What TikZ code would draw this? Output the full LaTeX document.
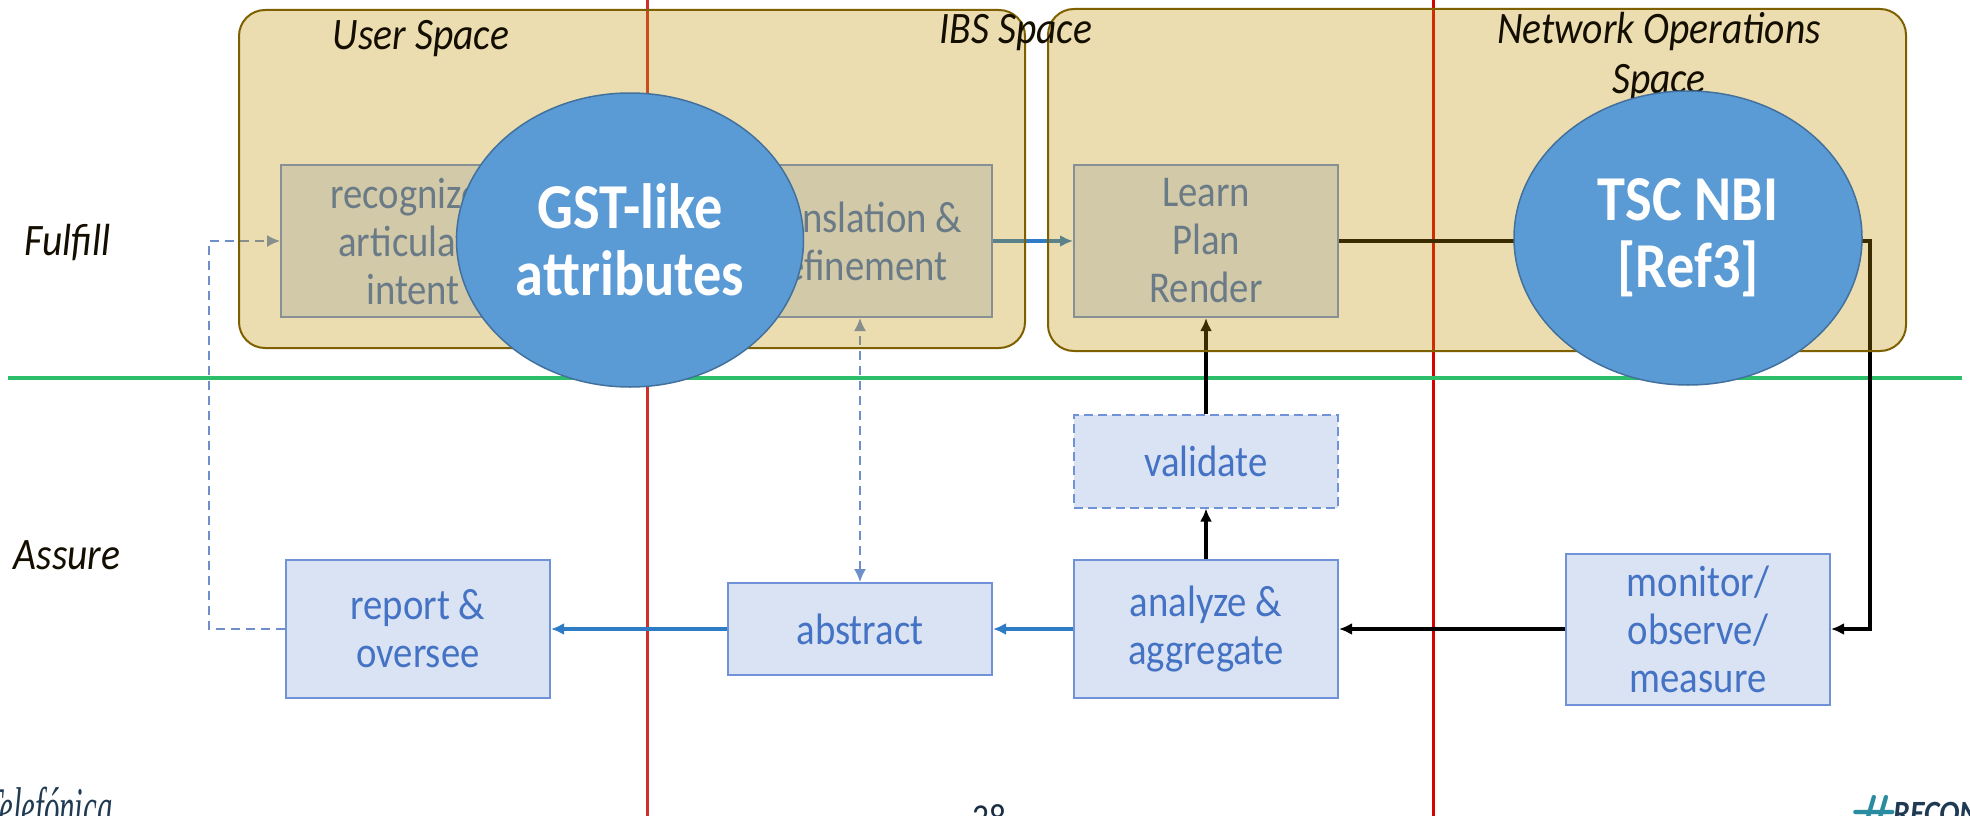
\documentclass[tikz,border=0pt]{standalone}
\usepackage{fontspec}
\setmainfont[FakeStretch=.88]{Carlito}
\newfontfamily\logofont[FakeStretch=.55]{Liberation Serif}
\usetikzlibrary{shapes.geometric,arrows.meta}
\definecolor{goldfill}{HTML}{BF9000}
\definecolor{goldline}{HTML}{7F6000}
\definecolor{boxfill}{HTML}{DAE3F3}
\definecolor{boxline}{HTML}{6F92D8}
\definecolor{boxtext}{HTML}{4472C4}
\definecolor{flowblue}{HTML}{2E7CC6}
\definecolor{dashblue}{HTML}{6F8FCB}
\definecolor{blobfill}{HTML}{5B9BD5}
\definecolor{blobline}{HTML}{41719C}
\definecolor{redrule}{HTML}{D0302A}
\definecolor{greenrule}{HTML}{2DBE6C}
\definecolor{navy}{HTML}{1F3A52}
\definecolor{teal}{HTML}{2A8CA0}
\tikzset{
  stagebox/.style={draw=boxline,fill=boxfill,text=boxtext,line width=2pt,minimum width=264pt,align=center,font=\fontsize{44}{48}\selectfont},
  spacebox/.style={draw=goldline,line width=2pt,fill=goldfill,fill opacity=.31,rounded corners=26pt,inner sep=0pt},
  blob/.style={ellipse,draw=blobline,fill=blobfill,text=white,line width=1.5pt,inner sep=0pt,align=center,font=\fontsize{64}{67}\selectfont\bfseries},
  caption/.style={font=\fontsize{45}{50}\selectfont\itshape,align=center,text=black!85!goldline},
  flow/.style={line width=3.5pt,draw=flowblue},
  hard/.style={line width=3.5pt,draw=black},
  dashflow/.style={line width=1.6pt,draw=dashblue,dash pattern=on 9pt off 6pt},
}
\begin{document}
\begin{tikzpicture}[x=1pt,y=-1pt,->,>={Latex[length=13pt,width=12pt]}]
\useasboundingbox (0,0) rectangle (1970,816);
% red and green rules
\coordinate (r1a) at (647,0); \coordinate (r1b) at (647,816);
\coordinate (r2a) at (1433,0); \coordinate (r2b) at (1433,816);
\coordinate (ga) at (8,378); \coordinate (gb) at (1962,378);
\draw[-,line width=3pt,draw=redrule] (r1a) -- (r1b);
\draw[-,line width=3pt,draw=red!85!black] (r2a) -- (r2b);
\draw[-,line width=4pt,draw=greenrule] (ga) -- (gb);
% stages
\node[stagebox,minimum height=152pt](recognize) at (413,241) {recognize/\\articulate\\intent};
\node[stagebox,minimum height=152pt](translate) at (860,241) {translation \&\\refinement};
\node[stagebox,minimum height=152pt](learn) at (1206,241) {Learn\\Plan\\Render};
\node[stagebox,minimum height=93pt,dash pattern=on 9pt off 5pt](validate) at (1206,461) {validate};
\node[stagebox,minimum height=138pt](analyze) at (1206,629) {analyze \&\\aggregate};
\node[stagebox,minimum height=92pt](abstract) at (860,629) {abstract};
\node[stagebox,minimum height=138pt](report) at (418,629) {report \&\\oversee};
\node[stagebox,minimum height=151pt](monitor) at (1698,629) {monitor/\\observe/\\measure};
\coordinate (c1) at (209,629); \coordinate (c2) at (209,241);
\coordinate (c3) at (1870,241); \coordinate (c4) at (1870,629);
% flows
\draw[dashflow] (report) -- (c1) -- (c2) -- (recognize);
\path (abstract) edge [dashflow,<->] (translate);
\path (translate) edge [flow] (learn);
\path (analyze) edge [flow] (abstract);
\path (abstract) edge [flow] (report);
\draw[hard] (learn) -- (c3) -- (c4) -- (monitor);
\path (monitor) edge [hard] (analyze);
\path (analyze) edge [hard] (validate);
\path (validate) edge [hard] (learn);
% spaces
\node[spacebox,minimum width=786pt,minimum height=338pt](user) at (632,179) {};
\node[spacebox,minimum width=858pt,minimum height=342pt](network) at (1477,180) {};
\node[caption](userlabel) at (421,39) {User Space};
\node[caption](ibslabel) at (1016,33) {IBS Space};
\node[caption](netlabel) at (1659,57) {Network Operations\\Space};
\node[caption](fulfill) at (68,243) {Fulfill};
\node[caption](assure) at (67,555) {Assure};
% footer
\node[anchor=base east,font=\logofont\itshape\fontsize{56}{60}\selectfont,text=navy](brand) at (116,826) {Telefónica};
\node[anchor=base west,font=\sffamily\bfseries\fontsize{52}{54}\selectfont,text=teal,inner sep=0pt](hash) at (1850,831) {\#};
\node[anchor=base west,font=\itshape\bfseries\fontsize{34}{36}\selectfont,text=navy,inner sep=0pt](reconf) at (1893,824) {RECONF};
\node[anchor=base,font=\fontsize{38}{40}\selectfont,text=navy!80!black](page) at (989,830) {28};
% overlays
\node[blob,minimum width=347pt,minimum height=294pt](gst) at (630,240) {GST-like\\attributes};
\node[blob,minimum width=348pt,minimum height=294pt](tsc) at (1688,238) {TSC NBI\\{}[Ref3]};
\end{tikzpicture}
\end{document}
